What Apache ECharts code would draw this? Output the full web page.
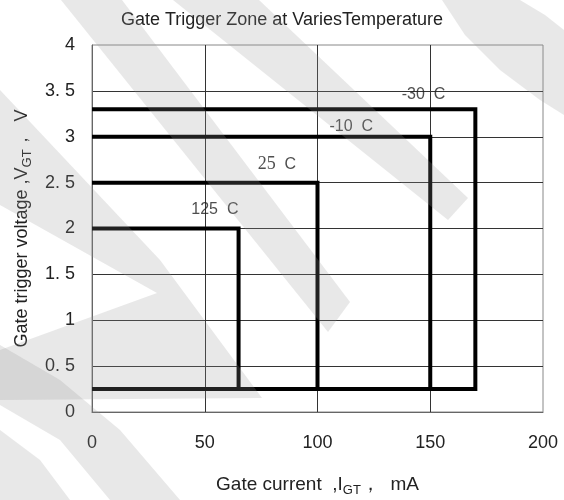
<!DOCTYPE html>
<html>
<head>
<meta charset="utf-8">
<script src="https://cdn.jsdelivr.net/npm/echarts@6/dist/echarts.min.js"></script>
<style>html,body{margin:0;padding:0;background:#fff}#c{width:564px;height:500px}</style>
</head>
<body>
<div id="c"></div>
<script>
// ---- data ----
const zoneNames = ['-30 C', '-10 C', '25 C', '125 C'];
const zoneMaxCurrent = [170, 150, 100, 65];      // mA
const zoneMaxVoltage = [3.3, 3.0, 2.5, 2.0];     // V
const zoneMinVoltage = [0.25, 0.25, 0.25, 0.25]; // V
const zoneLabelCurrent = [147, 115, 82, 54.5];
const zoneLabelVoltage = [3.455, 3.106, 2.70, 2.21];
const xTickValues = [0, 50, 100, 150, 200];
const yTickValues = [0, 0.5, 1, 1.5, 2, 2.5, 3, 3.5, 4];

const FONT = "'Liberation Sans', Arial, sans-serif";

const chart = echarts.init(document.getElementById('c'), null, {renderer: 'canvas'});

const zoneSeries = zoneNames.map((n, i) => ({
  name: n,
  type: 'line',
  symbol: 'none',
  silent: true,
  z: 5,
  lineStyle: {color: '#000', width: 4, join: 'miter', cap: 'butt'},
  data: [
    [0, zoneMaxVoltage[i]],
    [zoneMaxCurrent[i], zoneMaxVoltage[i]],
    [zoneMaxCurrent[i], zoneMinVoltage[i]],
    [0, zoneMinVoltage[i]]
  ]
}));

const labelSeries = {
  type: 'scatter',
  symbolSize: 0,
  silent: true,
  z: 6,
  data: zoneNames.map((n, i) => ({value: [zoneLabelCurrent[i], zoneLabelVoltage[i]], name: n})),
  label: {
    show: true,
    position: 'inside',
    fontFamily: FONT,
    fontSize: 16,
    color: '#222',
    formatter: p => {
      if (p.name === '25 C') return '{serif|25}{s|  C}';
      return '{s|' + p.name.replace(' ', '  ') + '}';
    },
    rich: {
      s: {fontFamily: FONT, fontSize: 16, color: '#222'},
      serif: {fontFamily: "'Liberation Serif', 'Times New Roman', serif", fontSize: 18, color: '#222'}
    }
  }
};

const wmColor = 'rgba(150,150,150,0.22)';
const wmPolys = [
  [[61,0],[122,0],[350,302],[328,332]],
  [[173,0],[259,0],[468,198],[448,220]],
  [[442,0],[520,0],[545,15],[564,30],[564,115],[540,100],[500,70],[465,35]],
  [[0,90],[0,205],[157,293],[0,350],[0,400],[262,398],[160,260]],
  [[0,345],[0,405],[60,440],[110,500],[180,500],[120,430],[60,380]],
  [[0,430],[0,500],[70,500],[40,460]]
];

const option = {
  animation: false,
  backgroundColor: '#fff',
  title: {
    text: 'Gate Trigger Zone at VariesTemperature',
    left: 'center',
    top: 6,
    textStyle: {fontFamily: FONT, fontSize: 18, fontWeight: 'normal', color: '#222'}
  },
  grid: {left: 92, right: 21, top: 45, bottom: 88, containLabel: false, outerBoundsMode: 'none',
         show: true, borderColor: '#888', borderWidth: 1, backgroundColor: 'transparent'},
  xAxis: {
    type: 'value',
    min: xTickValues[0],
    max: xTickValues[xTickValues.length - 1],
    interval: xTickValues[1] - xTickValues[0],
    axisLine: {show: true, lineStyle: {color: '#666', width: 1}},
    axisTick: {show: false},
    axisLabel: {fontFamily: FONT, fontSize: 18, color: '#222', margin: 22},
    splitLine: {show: true, showMinLine: false, showMaxLine: false, lineStyle: {color: '#333', width: 1}},
    name: '{n|Gate current  ,I}{b|GT}{n|，  mA}',
    nameLocation: 'middle',
    nameGap: 61,
    nameTextStyle: {
      rich: {
        n: {fontFamily: FONT, fontSize: 19, color: '#222', lineHeight: 24, verticalAlign: 'middle'},
        b: {fontFamily: FONT, fontSize: 13, color: '#222', lineHeight: 24, verticalAlign: 'bottom'}
      }
    }
  },
  yAxis: {
    type: 'value',
    min: yTickValues[0],
    max: yTickValues[yTickValues.length - 1],
    interval: yTickValues[1] - yTickValues[0],
    axisLine: {show: true, lineStyle: {color: '#666', width: 1}},
    axisTick: {show: false},
    axisLabel: {
      fontFamily: FONT, fontSize: 18, color: '#222', margin: 17,
      formatter: v => (Math.round(v) === v ? String(v) : v.toFixed(1).replace('.', '. '))
    },
    splitLine: {show: true, showMinLine: false, showMaxLine: false, lineStyle: {color: '#333', width: 1}},
    name: '{n|Gate trigger voltage ,V}{b|GT}{n|，  V}',
    nameLocation: 'middle',
    nameGap: 55,
    nameTextStyle: {
      rich: {
        n: {fontFamily: FONT, fontSize: 18, color: '#222', lineHeight: 24, verticalAlign: 'middle'},
        b: {fontFamily: FONT, fontSize: 13, color: '#222', lineHeight: 24, verticalAlign: 'bottom'}
      }
    }
  },
  graphic: wmPolys.map(pts => ({
    type: 'polygon',
    silent: true,
    z: 100,
    shape: {points: pts},
    style: {fill: wmColor}
  })),
  series: zoneSeries.concat([labelSeries])
};

chart.setOption(option);
</script>
</body>
</html>
